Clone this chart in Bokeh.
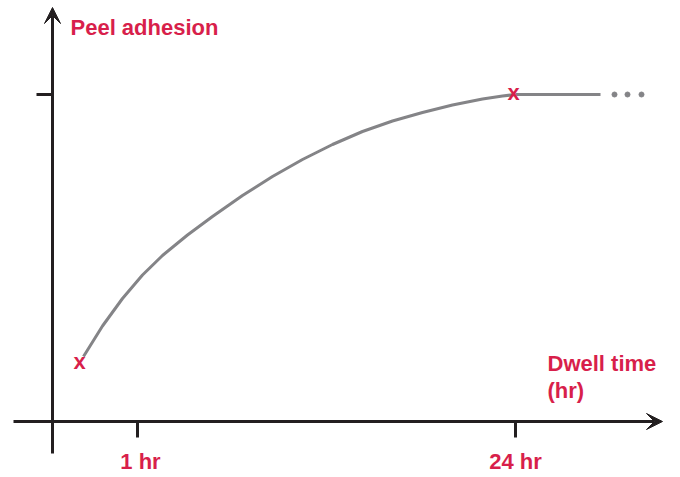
from bokeh.plotting import figure
from bokeh.models import Range1d, Arrow, VeeHead
from bokeh.core.properties import value
from bokeh.embed import file_html
from bokeh.resources import INLINE

# ---- data (schematic units, axes origin at 0,0) ----
dwell_pos = [31, 50, 70, 90, 110, 135, 160, 190, 220, 250, 280, 310, 340,
             370, 400, 430, 450, 463]
adhesion = [65, 95.5, 123, 146.5, 166, 186.5, 205, 226, 245, 262, 277, 290,
            300.5, 309, 316.5, 322.5, 325.5, 327]
plateau_pos = [463, 548]
plateau_val = [327, 327]
dots_pos = [562, 575, 589]
dots_val = [327, 327, 327]
marker_pos = [27, 461]
marker_val = [60, 329]
tick_pos = [85, 463]
tick_labels = ["1 hr", "24 hr"]
y_tick_level = [327]

RED = "#d81f4b"
GRAY = "#848487"
AXIS = "#231f20"
FONT = value("Liberation Sans")

p = figure(width=680, height=477, output_backend="svg", toolbar_location=None,
           x_range=Range1d(-52, 628), y_range=Range1d(-56, 421),
           x_axis_type=None, y_axis_type=None, min_border=0)
p.grid.visible = False
p.outline_line_color = None
p.background_fill_color = "white"

# axes with arrow heads
p.add_layout(Arrow(x_start=0, y_start=-32, x_end=0, y_end=414,
                   line_color=AXIS, line_width=3,
                   end=VeeHead(size=16, fill_color=AXIS, line_color=AXIS, line_width=1)))
p.add_layout(Arrow(x_start=-39, y_start=0, x_end=610, y_end=0,
                   line_color=AXIS, line_width=3,
                   end=VeeHead(size=16, fill_color=AXIS, line_color=AXIS, line_width=1)))

# ticks
p.segment(x0=[-16] * len(y_tick_level), x1=[0] * len(y_tick_level),
          y0=y_tick_level, y1=y_tick_level, line_color=AXIS, line_width=3)
p.segment(x0=tick_pos, x1=tick_pos, y0=[0] * len(tick_pos), y1=[-16] * len(tick_pos),
          line_color=AXIS, line_width=3)

# curve
p.line(dwell_pos, adhesion, line_color=GRAY, line_width=3, line_join="round")
p.line(plateau_pos, plateau_val, line_color=GRAY, line_width=3)
p.scatter(dots_pos, dots_val, size=5, fill_color=GRAY, line_color=GRAY)

# markers
p.text(marker_pos, marker_val, text=["x"] * len(marker_pos), text_color=RED,
       text_font=FONT, text_font_style="bold", text_font_size="22px",
       text_align="center", text_baseline="middle")

# tick labels
p.text(tick_pos, [-40] * len(tick_pos), text=tick_labels, text_color=RED,
       text_font=FONT, text_font_style="bold", text_font_size="22px",
       text_align="center", text_baseline="middle", x_offset=[3, 0])

# axis titles
p.text([18], [394], text=["Peel adhesion"], text_color=RED,
       text_font=FONT, text_font_style="bold", text_font_size="22px",
       text_align="left", text_baseline="middle")
p.text([495, 495], [58, 31], text=["Dwell time", "(hr)"], text_color=RED,
       text_font=FONT, text_font_style="bold", text_font_size="22px",
       text_align="left", text_baseline="middle")

open("out.html", "w").write(file_html(p, INLINE))
